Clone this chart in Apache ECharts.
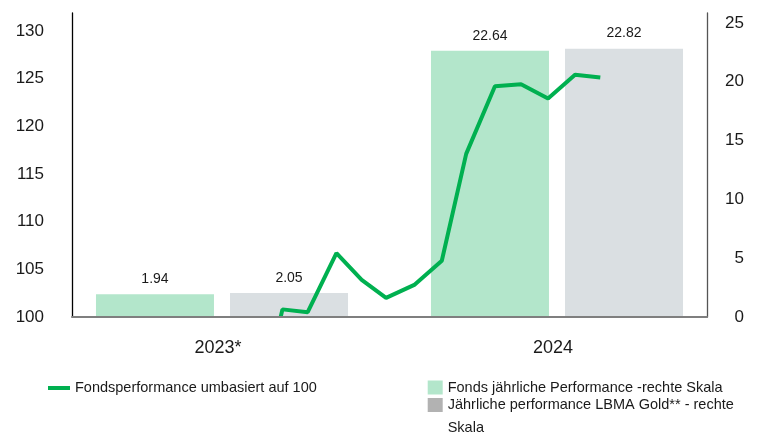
<!DOCTYPE html>
<html>
<head>
<meta charset="utf-8">
<script src="https://cdn.jsdelivr.net/npm/echarts@6/dist/echarts.min.js"></script>
<style>
  html, body { margin: 0; padding: 0; background: #fff; }
  #chart { width: 763px; height: 436px; }
</style>
</head>
<body>
<div id="chart"></div>
<script>
// Jahreswerte (rechte Skala)
const years = ['2023*', '2024'];
const fondsPerf = [1.94, 22.64];
const goldPerf = [2.05, 22.82];

// Fondsperformance umbasiert auf 100 (linke Skala)
const lineDates = ['2023-11-28', '2023-11-30', '2023-12-29', '2024-01-31', '2024-02-29', '2024-03-28',
  '2024-04-30', '2024-05-31', '2024-06-28', '2024-07-31', '2024-08-30', '2024-09-30', '2024-10-31', '2024-11-29'];
const lineValues = [100, 100.8, 100.5, 106.7, 103.9, 102.0, 103.4, 105.9, 117.1, 124.2, 124.4, 122.9, 125.4, 125.1];

const leftTicks = [100, 131.87];   // min / oberes Ende linke Achse
const rightTicks = [0, 25.85];     // min / oberes Ende rechte Achse

const font = 'Liberation Sans, Arial, sans-serif';
const txt = '#1a1a1a';

let myChart = echarts.init(document.getElementById('chart'));

myChart.setOption({
  animation: false,
  textStyle: { fontFamily: font },
  grid: [
    // Achsenrahmen
    { left: 72, right: 56, top: 13, bottom: 119 },
    // Balken
    { left: 54.5, right: 38.5, top: 13, bottom: 119 },
    // Linie
    { left: 280.7, right: 162.7, top: 13, bottom: 119 }
  ],
  xAxis: [
    {
      gridIndex: 0, type: 'value', min: 0, max: 1, z: 5,
      axisLine: { show: true, onZero: false, lineStyle: { color: '#7f7f7f', width: 2 } },
      axisTick: { show: false }, axisLabel: { show: false }, splitLine: { show: false }
    },
    {
      gridIndex: 1, type: 'category', data: years,
      axisLine: { show: false }, axisTick: { show: false },
      axisLabel: { color: txt, fontSize: 18, margin: 22, fontFamily: font, padding: [0, 8, 0, 0] }
    },
    {
      gridIndex: 2, type: 'time', min: 'dataMin', max: 'dataMax', show: false
    }
  ],
  yAxis: [
    {
      gridIndex: 0, type: 'value', position: 'left',
      min: leftTicks[0], max: leftTicks[1], interval: 5,
      axisLine: { show: true, lineStyle: { color: '#000', width: 1.3 } },
      axisTick: { show: false }, splitLine: { show: false },
      axisLabel: { color: txt, fontSize: 17, margin: 28, showMaxLabel: false, fontFamily: font }
    },
    {
      gridIndex: 0, type: 'value', position: 'right',
      min: rightTicks[0], max: rightTicks[1], interval: 5,
      axisLine: { show: true, lineStyle: { color: '#555', width: 1.3 } },
      axisTick: { show: false }, splitLine: { show: false },
      axisLabel: { color: txt, fontSize: 17, margin: 37, align: 'right', showMaxLabel: false, fontFamily: font }
    },
    { gridIndex: 1, type: 'value', min: rightTicks[0], max: rightTicks[1], show: false },
    { gridIndex: 2, type: 'value', min: leftTicks[0], max: leftTicks[1], show: false }
  ],
  legend: [
    {
      left: 48, top: 380.5, padding: 0, itemWidth: 22, itemHeight: 4,
      textStyle: { color: txt, fontSize: 14.5, fontFamily: font },
      data: [{ name: 'Fondsperformance umbasiert auf 100', icon: 'rect' }]
    },
    {
      left: 427.7, top: 380, padding: 0, itemWidth: 15, itemHeight: 14,
      textStyle: { color: txt, fontSize: 14.5, fontFamily: font },
      data: [{ name: 'Fonds jährliche Performance -rechte Skala', icon: 'rect' }]
    },
    {
      // Leerzeile oben, damit die erste Textzeile auf Höhe des Symbols steht
      left: 427.7, top: 370.5, padding: 0, itemWidth: 15, itemHeight: 14,
      textStyle: { color: txt, fontSize: 14.5, fontFamily: font, lineHeight: 23 },
      formatter: function (name) { return ' \n' + name.replace(' - rechte Skala', ' - rechte\nSkala'); },
      data: [{ name: 'Jährliche performance LBMA Gold** - rechte Skala', icon: 'rect', itemStyle: { color: '#b2b2b2' } }]
    }
  ],
  series: [
    {
      name: 'Fonds jährliche Performance -rechte Skala',
      type: 'bar', xAxisIndex: 1, yAxisIndex: 2,
      data: fondsPerf, barWidth: 118, barGap: '13.6%',
      itemStyle: { color: '#b3e6cb' },
      label: { show: true, position: 'top', distance: 8, color: txt, fontSize: 14, fontFamily: font }
    },
    {
      name: 'Jährliche performance LBMA Gold** - rechte Skala',
      type: 'bar', xAxisIndex: 1, yAxisIndex: 2,
      data: goldPerf, barWidth: 118,
      itemStyle: { color: '#dadfe2' },
      label: { show: true, position: 'top', distance: 8, color: txt, fontSize: 14, fontFamily: font }
    },
    {
      name: 'Fondsperformance umbasiert auf 100',
      type: 'line', xAxisIndex: 2, yAxisIndex: 3, z: 4,
      data: lineDates.map((d, i) => [d, lineValues[i]]),
      showSymbol: false, symbol: 'none',
      itemStyle: { color: '#00b050' },
      lineStyle: { color: '#00b050', width: 4 }
    }
  ]
});
</script>
</body>
</html>
